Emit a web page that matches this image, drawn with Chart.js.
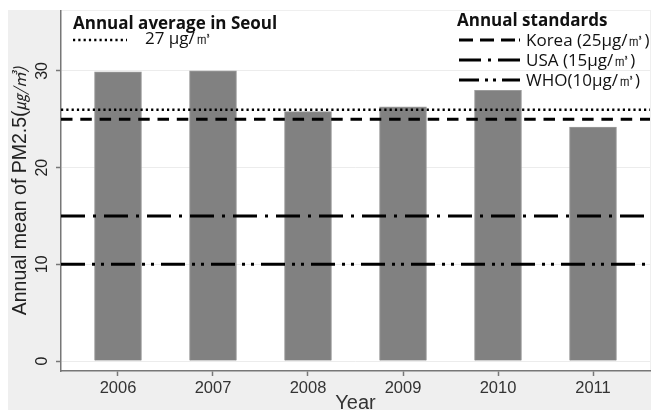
<!DOCTYPE html>
<html>
<head>
<meta charset="utf-8">
<script src="https://cdn.jsdelivr.net/npm/chart.js@4/dist/chart.umd.min.js"></script>
<style>
  html, body { margin: 0; padding: 0; background: #fff; }
  canvas { display: block; }
</style>
</head>
<body>
<canvas id="pmChart" width="651" height="410"></canvas>
<script>
"use strict";
// values
const years = [2006, 2007, 2008, 2009, 2010, 2011];
const pm25 = [29.9, 30.0, 25.8, 26.3, 28.0, 24.2];
const yTickValues = [0, 10, 20, 30];
const seoulAverage = 26;
const standards = [
  { label: 'Korea (25μg/㎥)', value: 25 },
  { label: 'USA (15μg/㎥)', value: 15 },
  { label: 'WHO(10μg/㎥)', value: 10 },
];
const xMin = 2005.4, xMax = 2011.6;
const yMin = -1.03, yMax = 36.2;

const dashes = {
  seoul: [2.2, 3.1],
  korea: [11.5, 7.8],
  usa: [24, 8, 3, 8],
  who: [24, 7, 3, 6, 3, 7],
};
const legendDashes = {
  korea: [14, 7, 14, 7, 14, 4, 2, 40],
  usa: [22, 7, 3, 7, 22, 40],
  who: [20, 6, 3, 5, 3, 6, 18, 40],
};

const flatLine = (v) => [{ x: xMin, y: v }, { x: xMax, y: v }];
const lineSet = (v, dash, width) => ({
  type: 'line',
  data: flatLine(v),
  borderColor: '#000',
  borderWidth: width,
  borderDash: dash,
  borderCapStyle: 'butt',
  pointRadius: 0,
  fill: false,
  order: 0,
});

const decor = {
  id: 'decor',
  beforeDraw(chart) {
    const { ctx, chartArea: a } = chart;
    ctx.save();
    ctx.fillStyle = '#fff';
    ctx.fillRect(0, 0, chart.width, chart.height);
    ctx.fillStyle = '#efefef';
    ctx.fillRect(8, 10, chart.width - 8, chart.height - 10);
    ctx.fillStyle = '#fff';
    ctx.fillRect(a.left, a.top, a.right - a.left, a.bottom - a.top);
    ctx.restore();
  },
  afterDraw(chart) {
    const { ctx, chartArea: a } = chart;
    const y = chart.scales.y;
    ctx.save();
    ctx.fillStyle = '#222';
    // rotated y tick labels
    ctx.font = '16px "Liberation Sans", Arial, sans-serif';
    ctx.textAlign = 'center';
    ctx.textBaseline = 'middle';
    yTickValues.forEach(v => {
      ctx.save();
      ctx.translate(43, y.getPixelForValue(v));
      ctx.rotate(-Math.PI / 2);
      ctx.fillText(String(v), 0, 0);
      ctx.restore();
    });
    // y axis title, centred on the plot
    ctx.save();
    const t1 = 'Annual mean of PM2.5(';
    const t2 = '㎍/㎥)';
    const f1 = '19.5px "Liberation Sans", Arial, sans-serif';
    const f2 = 'italic 16px "Noto Sans CJK KR", sans-serif';
    ctx.font = f1; const w1 = ctx.measureText(t1).width;
    ctx.font = f2; const w2 = ctx.measureText(t2).width;
    ctx.translate(26, (a.top + a.bottom) / 2);
    ctx.rotate(-Math.PI / 2);
    ctx.textAlign = 'left';
    ctx.textBaseline = 'alphabetic';
    const start = -(w1 + w2) / 2;
    ctx.font = f1; ctx.fillText(t1, start, 0);
    ctx.font = f2; ctx.fillText(t2, start + w1, 0);
    ctx.restore();

    // left legend
    ctx.fillStyle = '#111';
    ctx.textAlign = 'left';
    ctx.textBaseline = 'alphabetic';
    ctx.font = 'bold 17px "Open Sans", sans-serif';
    ctx.fillText('Annual average in Seoul', 73, 29);
    ctx.font = '17px "Open Sans", sans-serif';
    ctx.fillText('27 μg/㎥', 145, 44);
    ctx.strokeStyle = '#000';
    ctx.lineWidth = 2.5;
    ctx.setLineDash(dashes.seoul);
    ctx.beginPath(); ctx.moveTo(73, 40); ctx.lineTo(127, 40); ctx.stroke();

    // right legend
    ctx.setLineDash([]);
    ctx.font = 'bold 17px "Open Sans", sans-serif';
    ctx.fillText('Annual standards', 457, 26);
    const keys = ['korea', 'usa', 'who'];
    standards.forEach((s, i) => {
      const ly = 40 + i * 20;
      ctx.setLineDash(legendDashes[keys[i]]);
      ctx.lineWidth = 3;
      ctx.beginPath(); ctx.moveTo(459, ly); ctx.lineTo(520, ly); ctx.stroke();
      ctx.setLineDash([]);
      ctx.font = '17px "Open Sans", sans-serif';
      ctx.fillText(s.label, 526, ly + 6);
    });
    ctx.restore();
  },
};

new Chart(document.getElementById('pmChart'), {
  data: {
    datasets: [
      lineSet(seoulAverage, dashes.seoul, 2.5),
      lineSet(standards[0].value, dashes.korea, 3),
      lineSet(standards[1].value, dashes.usa, 3),
      lineSet(standards[2].value, dashes.who, 3),
      {
        type: 'bar',
        data: years.map((yr, i) => ({ x: yr, y: pm25[i] })),
        backgroundColor: '#818181',
        borderColor: '#9c9c9c',
        borderWidth: 1,
        barThickness: 47,
        order: 1,
      },
    ],
  },
  options: {
    responsive: false,
    animation: false,
    devicePixelRatio: 1,
    layout: { padding: { top: 11, left: 0, right: 1, bottom: 0 } },
    plugins: { legend: { display: false }, tooltip: { enabled: false } },
    scales: {
      x: {
        type: 'linear',
        min: xMin,
        max: xMax,
        offset: false,
        afterBuildTicks: s => { s.ticks = years.map(v => ({ value: v })); },
        afterFit: s => { s.height = 39; },
        grid: { offset: false, drawOnChartArea: false, tickLength: 5, tickColor: '#777', tickWidth: 1.5 },
        border: { color: '#777', width: 1.5 },
        ticks: {
          color: '#333',
          padding: 3,
          font: { family: '"Liberation Sans", Arial, sans-serif', size: 16.5 },
          callback: v => String(v),
        },
        title: {
          display: true,
          text: 'Year',
          color: '#333',
          padding: { top: 0, bottom: -5 },
          font: { family: '"Liberation Sans", Arial, sans-serif', size: 20 },
        },
      },
      y: {
        type: 'linear',
        min: yMin,
        max: yMax,
        afterBuildTicks: s => { s.ticks = yTickValues.map(v => ({ value: v })); },
        afterFit: s => { s.width = 61; },
        grid: { color: '#ececec', tickLength: 5, tickColor: '#777', tickWidth: 1.5 },
        border: { color: '#777', width: 1.5 },
        ticks: { display: false },
      },
    },
  },
  plugins: [decor],
});
</script>
</body>
</html>
